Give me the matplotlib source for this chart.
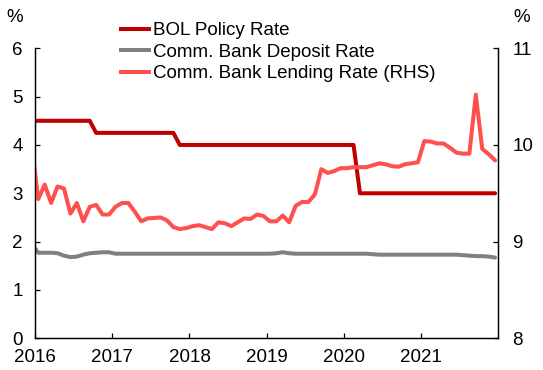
import matplotlib
matplotlib.use("Agg")
import matplotlib.pyplot as plt
from matplotlib.lines import Line2D
import pandas as pd

plt.rcParams['font.family'] = ['Liberation Sans', 'DejaVu Sans']

# Monthly observations, Dec 2015 - Dec 2021
months = pd.period_range('2015-12', '2021-12', freq='M')

bol_policy = [
    4.50,
    4.50, 4.50, 4.50, 4.50, 4.50, 4.50, 4.50, 4.50, 4.50, 4.25, 4.25, 4.25,   # 2016
    4.25, 4.25, 4.25, 4.25, 4.25, 4.25, 4.25, 4.25, 4.25, 4.25, 4.00, 4.00,   # 2017
    4.00, 4.00, 4.00, 4.00, 4.00, 4.00, 4.00, 4.00, 4.00, 4.00, 4.00, 4.00,   # 2018
    4.00, 4.00, 4.00, 4.00, 4.00, 4.00, 4.00, 4.00, 4.00, 4.00, 4.00, 4.00,   # 2019
    4.00, 4.00, 3.00, 3.00, 3.00, 3.00, 3.00, 3.00, 3.00, 3.00, 3.00, 3.00,   # 2020
    3.00, 3.00, 3.00, 3.00, 3.00, 3.00, 3.00, 3.00, 3.00, 3.00, 3.00, 3.00,   # 2021
]

deposit_rate = [
    1.95,
    1.77, 1.77, 1.77, 1.76, 1.71, 1.68, 1.69, 1.73, 1.76, 1.77, 1.78, 1.78,   # 2016
    1.75, 1.75, 1.75, 1.75, 1.75, 1.75, 1.75, 1.75, 1.75, 1.75, 1.75, 1.75,   # 2017
    1.75, 1.75, 1.75, 1.75, 1.75, 1.75, 1.75, 1.75, 1.75, 1.75, 1.75, 1.75,   # 2018
    1.75, 1.76, 1.78, 1.76, 1.75, 1.75, 1.75, 1.75, 1.75, 1.75, 1.75, 1.75,   # 2019
    1.75, 1.75, 1.75, 1.75, 1.74, 1.73, 1.73, 1.73, 1.73, 1.73, 1.73, 1.73,   # 2020
    1.73, 1.73, 1.73, 1.73, 1.73, 1.73, 1.72, 1.71, 1.70, 1.70, 1.69, 1.67,   # 2021
]

lending_rate = [
    10.00,
    9.44, 9.59, 9.40, 9.57, 9.55, 9.29, 9.40, 9.21, 9.36, 9.38, 9.28, 9.28,   # 2016
    9.36, 9.40, 9.40, 9.31, 9.21, 9.24, 9.245, 9.25, 9.22, 9.15, 9.13, 9.14,  # 2017
    9.16, 9.17, 9.15, 9.13, 9.20, 9.19, 9.16, 9.20, 9.24, 9.235, 9.28, 9.265, # 2018
    9.21, 9.21, 9.27, 9.20, 9.37, 9.41, 9.41, 9.49, 9.75, 9.71, 9.73, 9.76,   # 2019
    9.76, 9.77, 9.77, 9.77, 9.79, 9.81, 9.80, 9.78, 9.775, 9.80, 9.81, 9.82,  # 2020
    10.04, 10.035, 10.015, 10.015, 9.97, 9.92, 9.91, 9.91, 10.52, 9.96, 9.905, 9.84,  # 2021
]

year_labels = ['2016', '2017', '2018', '2019', '2020', '2021']

# each month sits in the middle of its own slot on the category axis
x = [(p.year - 2016) * 12 + (p.month - 1) + 0.5 for p in months]

c_bol = '#C00000'
c_dep = '#808080'
c_lend = '#FF5050'
lw = 2.9
fs = 13.5

fig = plt.figure(figsize=(5.43, 3.70), dpi=100)
ax = fig.add_axes([0.0645, 0.0857, 0.8532, 0.7838])
ax2 = ax.twinx()

ax.plot(x, bol_policy, color=c_bol, lw=lw, solid_joinstyle='round', solid_capstyle='round')
ax.plot(x, deposit_rate, color=c_dep, lw=lw, solid_joinstyle='round', solid_capstyle='round')
ax2.plot(x, lending_rate, color=c_lend, lw=lw, solid_joinstyle='round', solid_capstyle='round')

ax.set_xlim(0, 72)
ax.set_ylim(0, 6)
ax2.set_ylim(8, 11)
ax.set_yticks(range(0, 7))
ax2.set_yticks(range(8, 12))
ax.set_xticks([12 * i for i in range(len(year_labels))])
ax.set_xticklabels(year_labels)

for a in (ax, ax2):
    a.spines['top'].set_visible(False)
    for s in a.spines.values():
        s.set_linewidth(0.9)
        s.set_color('black')

ax.tick_params(axis='both', direction='in', length=3.6, width=0.9, labelsize=fs, colors='black')
ax.tick_params(axis='y', pad=9)
ax.tick_params(axis='x', pad=8)
ax2.tick_params(axis='y', direction='in', length=3.6, width=0.9, labelsize=fs, pad=10)

fig.text(15 / 543, 1 - 18 / 370, '%', ha='center', va='center', fontsize=fs)
fig.text(522 / 543, 1 - 18 / 370, '%', ha='center', va='center', fontsize=fs)

handles = [Line2D([], [], color=c_bol, lw=lw),
           Line2D([], [], color=c_dep, lw=lw),
           Line2D([], [], color=c_lend, lw=lw)]
labels = ['BOL Policy Rate', 'Comm. Bank Deposit Rate', 'Comm. Bank Lending Rate (RHS)']
fig.legend(handles, labels, loc='upper left', bbox_to_anchor=(121 / 543, 1 - 22 / 370),
           frameon=False, fontsize=fs, handlelength=1.5, handletextpad=0.2,
           labelspacing=0.24, borderpad=0, borderaxespad=0)

fig.savefig('out.png', dpi=100)
